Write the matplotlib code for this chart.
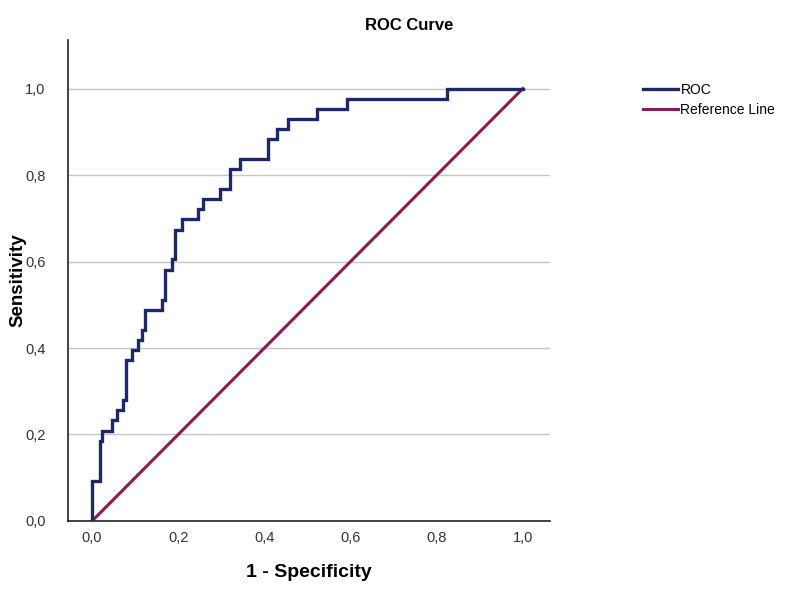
import matplotlib
matplotlib.use("Agg")
import matplotlib.pyplot as plt
from matplotlib.ticker import FuncFormatter

plt.rcParams['font.family'] = ['Liberation Sans', 'DejaVu Sans']

# step corners of the ROC curve (1 - specificity, sensitivity)
fpr = [0.000, 0.000, 0.019, 0.019, 0.023, 0.023, 0.046, 0.046, 0.058, 0.058,
       0.072, 0.072, 0.079, 0.079, 0.093, 0.093, 0.107, 0.107, 0.116, 0.116,
       0.123, 0.123, 0.162, 0.162, 0.169, 0.169, 0.186, 0.186, 0.193, 0.193,
       0.209, 0.209, 0.246, 0.246, 0.258, 0.258, 0.297, 0.297, 0.320, 0.320,
       0.343, 0.343, 0.408, 0.408, 0.429, 0.429, 0.455, 0.455, 0.522, 0.522,
       0.592, 0.592, 0.824, 0.824, 1.000]
tpr = [0.000, 0.093, 0.093, 0.186, 0.186, 0.209, 0.209, 0.233, 0.233, 0.256,
       0.256, 0.279, 0.279, 0.372, 0.372, 0.395, 0.395, 0.419, 0.419, 0.442,
       0.442, 0.488, 0.488, 0.512, 0.512, 0.581, 0.581, 0.605, 0.605, 0.674,
       0.674, 0.698, 0.698, 0.721, 0.721, 0.744, 0.744, 0.767, 0.767, 0.814,
       0.814, 0.837, 0.837, 0.884, 0.884, 0.907, 0.907, 0.930, 0.930, 0.953,
       0.953, 0.977, 0.977, 1.000, 1.000]
ref_x = [0.0, 1.0]
ref_y = [0.0, 1.0]
ticks = [0.0, 0.2, 0.4, 0.6, 0.8, 1.0]

roc_color = '#1b2a66'
ref_color = '#8c1b4e'

fig = plt.figure(figsize=(7.94, 5.89), dpi=100)
ax = fig.add_axes([0.0856, 0.1155, 0.607, 0.817])

ax.plot(fpr, tpr, color=roc_color, lw=2.4, label='ROC', zorder=3,
        solid_joinstyle='miter')
ax.plot(ref_x, ref_y, color=ref_color, lw=2.2, label='Reference Line', zorder=2)

ax.set_xlim(-0.056, 1.063)
ax.set_ylim(0, 1.113)
ax.set_xticks(ticks)
ax.set_yticks(ticks)
comma = FuncFormatter(lambda v, p: f"{v:.1f}".replace('.', ','))
ax.xaxis.set_major_formatter(comma)
ax.yaxis.set_major_formatter(comma)
ax.tick_params(length=0, labelsize=10.5, labelcolor='#333333')
ax.tick_params(axis='x', pad=7)
ax.tick_params(axis='y', pad=16)

ax.yaxis.grid(True, color='#c4c4c4', lw=1)
ax.set_axisbelow(True)
for s in ['top', 'right']:
    ax.spines[s].set_visible(False)
for s in ['left', 'bottom']:
    ax.spines[s].set_color('#222222')
    ax.spines[s].set_linewidth(1.2)

ax.set_xlabel('1 - Specificity', fontsize=14, fontweight='bold', labelpad=14)
ax.set_ylabel('Sensitivity', fontsize=13.5, fontweight='bold')
ax.yaxis.set_label_coords(-0.086, 0.5)
fig.text(409 / 794, 1 - 25 / 589, 'ROC Curve', fontsize=12, fontweight='bold',
         ha='center', va='center')

ax.legend(loc='upper left', bbox_to_anchor=(643 / 794, 1 - 83 / 589),
          bbox_transform=fig.transFigure, frameon=False, fontsize=10,
          handlelength=2.5, handletextpad=0.2, labelspacing=0.4,
          borderaxespad=0, borderpad=0)

fig.savefig('out.png', dpi=100)
